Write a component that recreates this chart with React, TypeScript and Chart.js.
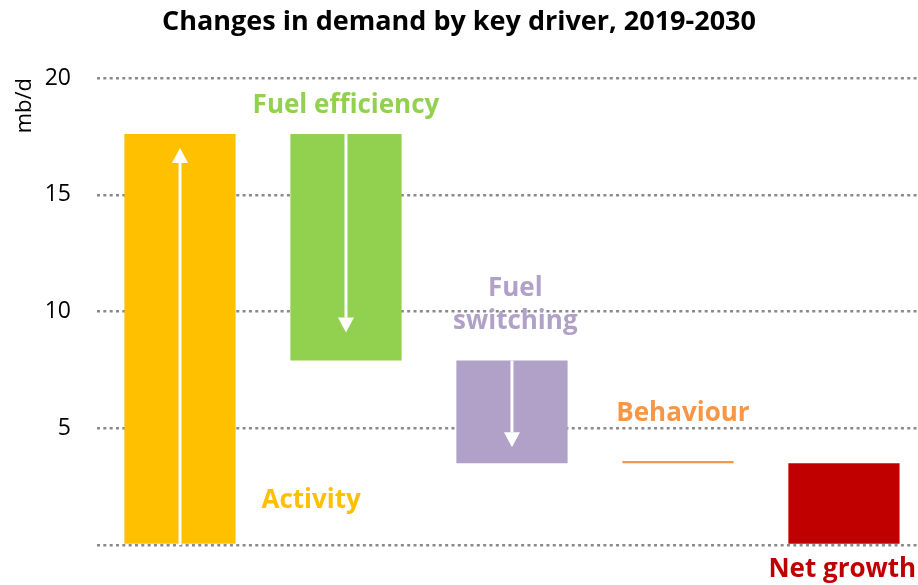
import React, { useEffect, useRef } from "react";
import { Chart, registerables } from "chart.js";

Chart.register(...registerables);

const chartTitle = "Changes in demand by key driver, 2019-2030";
const yAxisTitle = "mb/d";
const categories = ["Activity", "Fuel efficiency", "Fuel switching", "Behaviour", "Net growth"];
const barStart = [0, 17.6, 7.9, 3.5, 0];
const barEnd = [17.6, 7.9, 3.5, 3.6, 3.5];
const barColors = ["#FFC000", "#92D050", "#B1A0C7", "#F79646", "#C00000"];
const yMin = 0;
const yMax = 20;
const yStep = 5;

// annotation text for each driver (lines), with anchor in data units (x index, y value of baseline)
const labelLines = [["Activity"], ["Fuel efficiency"], ["Fuel", "switching"], ["Behaviour"], ["Net growth"]];
const labelAnchorX = [0.79, 1.0, 2.02, 3.03, 3.99];
const labelAnchorY = [1.58, 18.5, 10.66, 5.31, -1.37];
const arrowShown = [true, true, true, false, false];
const arrowTipInset = [14, 28, 16, 0, 0];

const FONT = "'Open Sans', Lato, sans-serif";

const annotationPlugin = {
  id: "annotations",
  afterDatasetsDraw(chart: any) {
    const ctx = chart.ctx;
    const xs = chart.scales.x;
    const ys = chart.scales.y;
    const meta = chart.getDatasetMeta(0);
    ctx.save();
    // arrows
    meta.data.forEach((bar: any, i: number) => {
      if (!arrowShown[i]) return;
      const x = bar.x;
      const from = ys.getPixelForValue(barStart[i]);
      const to = ys.getPixelForValue(barEnd[i]);
      const dir = Math.sign(to - from);
      const tip = to - dir * arrowTipInset[i];
      const headLen = 15;
      const headHalf = 8;
      ctx.strokeStyle = "#ffffff";
      ctx.fillStyle = "#ffffff";
      ctx.lineWidth = 3;
      ctx.beginPath();
      ctx.moveTo(x, from);
      ctx.lineTo(x, tip - dir * headLen);
      ctx.stroke();
      ctx.beginPath();
      ctx.moveTo(x, tip);
      ctx.lineTo(x - headHalf, tip - dir * headLen);
      ctx.lineTo(x + headHalf, tip - dir * headLen);
      ctx.closePath();
      ctx.fill();
    });
    // labels
    ctx.font = `bold 26px ${FONT}`;
    ctx.textAlign = "center";
    ctx.textBaseline = "alphabetic";
    labelLines.forEach((lines, i) => {
      const cx = xs.getPixelForValue(labelAnchorX[i]);
      const by = ys.getPixelForValue(labelAnchorY[i]);
      ctx.fillStyle = barColors[i];
      lines.forEach((t, j) => ctx.fillText(t, cx, by + j * 33));
    });
    // title
    ctx.fillStyle = "#000000";
    ctx.font = `bold 27px ${FONT}`;
    ctx.fillText(chartTitle, chart.width / 2, 29.5);
    ctx.restore();
  },
};

export default function App() {
  const ref = useRef<HTMLCanvasElement | null>(null);
  useEffect(() => {
    document.body.style.margin = "0";
    const canvas = ref.current;
    if (!canvas) return;
    const chart = new Chart(canvas, {
      type: "bar",
      data: {
        datasets: [
          {
            label: "Change",
            data: categories.map((c, i) => ({ x: i, y: [barStart[i], barEnd[i]] })) as any,
            backgroundColor: barColors,
            borderWidth: 0,
            categoryPercentage: 1,
            barPercentage: 0.67,
          },
        ],
      },
      options: {
        animation: false,
        responsive: false,
        devicePixelRatio: 1,
        layout: { padding: { top: 78, bottom: 40, left: 0, right: 0 } },
        plugins: {
          legend: { display: false },
          tooltip: { enabled: false },
          title: { display: false },
        },
        scales: {
          x: {
            type: "linear",
            min: -0.5,
            max: 4.446,
            offset: false,
            display: false,
            afterBuildTicks: (scale: any) => {
              scale.ticks = categories.map((c, i) => ({ value: i }));
            },
          },
          y: {
            min: yMin,
            max: yMax,
            ticks: {
              stepSize: yStep,
              padding: 26,
              color: "#000000",
              font: { family: FONT, size: 23 },
              callback: (v: any) => (v === 0 ? "" : String(v)),
            },
            grid: {
              color: "#8a8a8a",
              lineWidth: 2.5,
              drawTicks: false,
            },
            border: { display: false, dash: [3, 3.33] },
            title: {
              display: true,
              text: yAxisTitle,
              align: "end",
              color: "#000000",
              font: { family: FONT, size: 22 },
              padding: { top: 12, bottom: 0 },
            },
            afterFit: (scale: any) => {
              scale.width = 97;
            },
          },
        },
      },
      plugins: [annotationPlugin],
    });
    return () => chart.destroy();
  }, []);
  return (
    <div style={{ width: 918, height: 585 }}>
      <canvas ref={ref} width={918} height={585} />
    </div>
  );
}
